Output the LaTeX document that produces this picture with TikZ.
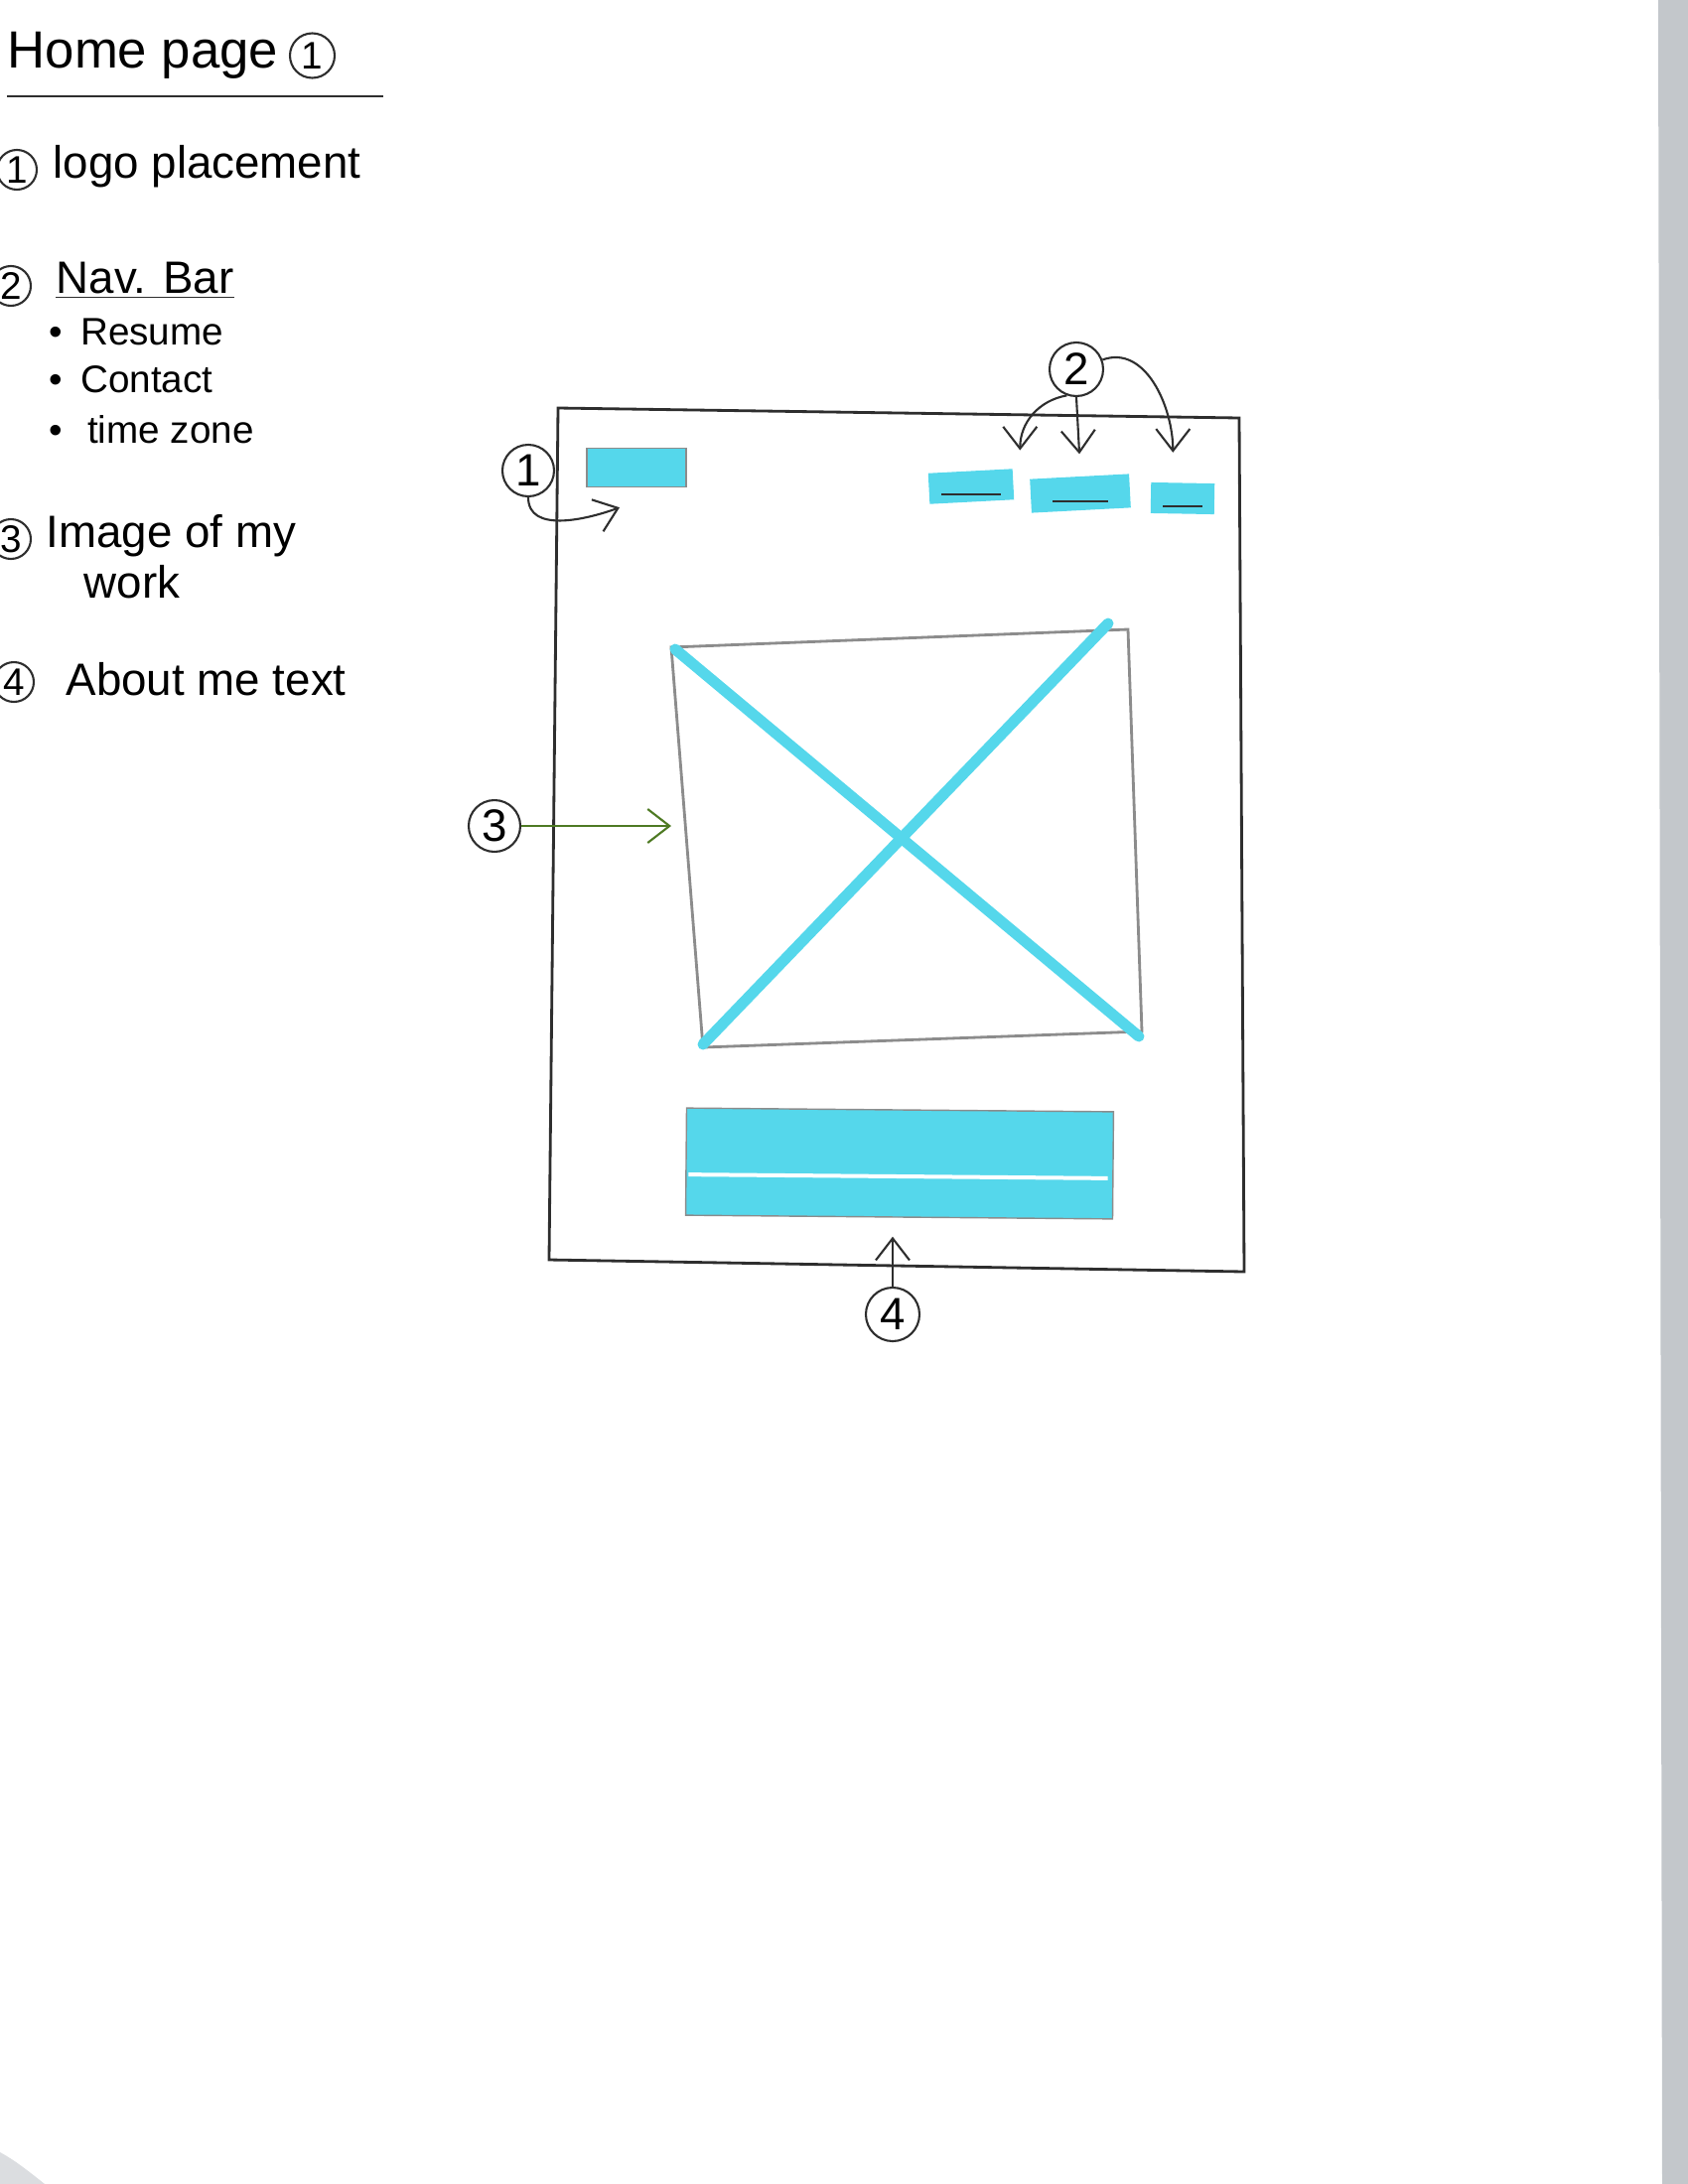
\documentclass[tikz,border=0pt]{standalone}
\usepackage{fontspec}
\setmainfont{Liberation Sans}
\usepackage{xcolor}
\usetikzlibrary{arrows.meta, positioning, calc}
\definecolor{marker}{HTML}{55D7EB}
\definecolor{pencil}{HTML}{8C8C8C}
\definecolor{ink}{HTML}{2E2E2E}
\definecolor{leaf}{HTML}{4E7A23}
\definecolor{scanedge}{HTML}{C3C7CB}

\begin{document}
\begin{tikzpicture}[
    x=0.1mm, y=-0.1mm,
    node distance=1.5mm,
    num/.style={circle, draw=ink, semithick, inner sep=0pt, minimum size=4mm, font=\fontsize{11}{11}\selectfont},
    bignum/.style={num, minimum size=5.2mm, font=\fontsize{13}{13}\selectfont},
    note/.style={anchor=west, inner sep=0pt, font=\fontsize{13}{15}\selectfont},
    item/.style={anchor=west, inner sep=0pt, font=\fontsize{11}{13}\selectfont},
    navbtn/.style={fill=marker, inner sep=0pt, minimum width=8.5mm, minimum height=3.1mm},
    hand/.style={-{Straight Barb[length=2.2mm, width=3.4mm]}, semithick, draw=ink}
  ]
  \useasboundingbox (0,0) rectangle (1700,2200);
  \fill[scanedge] (1670,0) -- (1700,0) -- (1700,2200) -- (1674,2200) -- cycle;
  \fill[scanedge!60] (0,2168) .. controls (15,2176) and (30,2188) .. (45,2200) -- (0,2200) -- cycle;

  \node[note, font=\fontsize{15}{17}\selectfont] (home) at (7,56) {Home page};
  \node[num, minimum size=4.5mm, right=1mm of home] (hc) {1};
  \draw[ink, semithick] (7,97) -- (386,97);

  \node[num] (n1) at (17,171) {1};
  \node[note] (logotxt) at (53,168) {logo placement};
  \node[num] (n2) at (11,288) {2};
  \node[note] (navbar) at (56,280) {Nav. Bar};
  \draw[ink] ([yshift=-0.3mm]navbar.south west) -- ([yshift=-0.3mm]navbar.south east);
  \node[item] (resume) at (49,334) {\textbullet\hspace{1.8mm}Resume};
  \node[item] (contact) at (49,382) {\textbullet\hspace{1.8mm}Contact};
  \node[item] (timezone) at (49,433) {\textbullet\hspace{2.5mm}time zone};
  \node[num] (n3) at (11,543) {3};
  \node[note] (imgtxt) at (46,540) {Image of my};
  \node[note] (worktxt) at (84,586) {work};
  \node[num] (n4) at (14,687) {4};
  \node[note] (abouttxt) at (66,684) {About me text};

  \draw[ink, thick] (562,411) -- (1248,421) -- (1253,1281) -- (553,1269) -- cycle;

  \node[fill=marker, draw=pencil, inner sep=0pt, minimum width=10mm, minimum height=3.9mm] (logo) at (641,471) {};
  \node[bignum] (c1) at (532,474) {1};
  \draw[hand] (c1.south) to[out=-90, in=200] ([shift={(-1.7mm,-2mm)}]logo.south);

  \node[navbtn, rotate=3] (nav1) at (978,490) {};
  \node[navbtn, minimum width=10mm, minimum height=3.4mm, rotate=3] (nav2) at (1088,497) {};
  \node[navbtn, minimum width=6.4mm, rotate=-1] (nav3) at (1191,502) {};
  \foreach \b/\w in {nav1/3, nav2/2.8, nav3/2} {
    \draw[ink] ([shift={(-\w mm,-0.8mm)}]\b.center) -- ([shift={(\w mm,-0.8mm)}]\b.center);
  }
  \node[bignum, minimum size=5.4mm] (c2) at (1084,372) {2};
  \draw[hand] (c2.250) to[out=190, in=90] ([shift={(0.7mm,1.8mm)}]nav1.north east);
  \draw[hand] (c2.south) -- ([yshift=2.2mm]nav2.north);
  \draw[hand] (c2.20) to[out=20, in=90] ([shift={(-1mm,3mm)}]nav3.north);

  \coordinate (imgnw) at (676,652);
  \coordinate (imgne) at (1136,634);
  \coordinate (imgse) at (1150,1039);
  \coordinate (imgsw) at (708,1055);
  \draw[pencil, thick] (imgnw) -- (imgne) -- (imgse) -- (imgsw) -- cycle;
  \draw[marker, line width=1.1mm, line cap=round] ([shift={(0.4mm,-0.2mm)}]imgnw) -- ([shift={(-0.3mm,-0.5mm)}]imgse);
  \draw[marker, line width=1.1mm, line cap=round] ([shift={(-2mm,0.6mm)}]imgne) -- ([shift={(0mm,0.3mm)}]imgsw);

  \node[bignum] (c3) at (498,832) {3};
  \draw[hand, draw=leaf] (c3) -- (c3 -| imgnw);

  \node[fill=marker, draw=pencil, inner sep=0pt, minimum width=43mm, minimum height=10.8mm, rotate=-0.5] (about) at (906,1172) {};
  \draw[white, line width=0.4mm] ([shift={(0.3mm,-1.3mm)}]about.west) -- ([shift={(-0.6mm,-1.3mm)}]about.east);
  \node[bignum, minimum size=5.4mm] (c4) at (899,1324) {4};
  \draw[hand, shorten >=1.9mm] (c4) -- (c4 |- about.south);
\end{tikzpicture}
\end{document}
